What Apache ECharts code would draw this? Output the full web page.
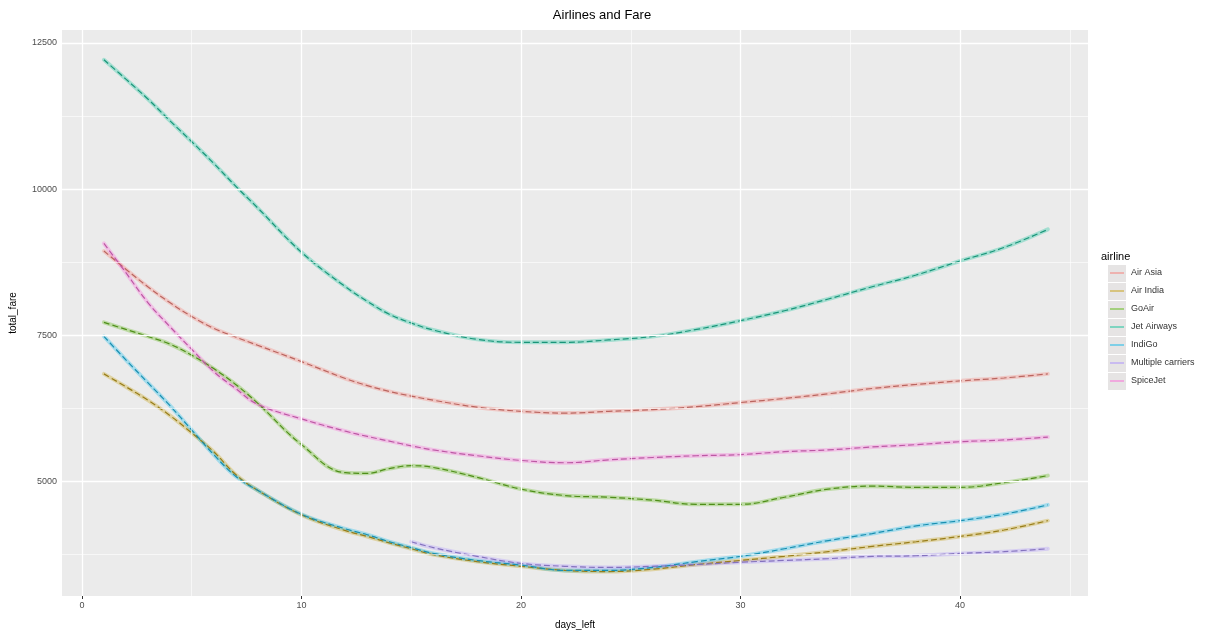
<!DOCTYPE html>
<html>
<head>
<meta charset="utf-8">
<title>Airlines and Fare</title>
<script src="https://cdn.jsdelivr.net/npm/echarts@6/dist/echarts.min.js"></script>
<style>
  html, body { margin: 0; padding: 0; background: #ffffff; }
  #chart { width: 1221px; height: 635px; }
</style>
</head>
<body>
<div id="chart"></div>
<script>
// Days before departure at which each smoothed fare curve is sampled
const days = [1, 2, 3, 4, 5, 6, 7, 8, 10, 12, 13, 14, 15, 16, 18, 20, 22, 24, 26, 28, 30, 32, 34, 36, 38, 40, 42, 44];

// Airlines in legend order, with their hue colours
const airlines = ['Air Asia', 'Air India', 'GoAir', 'Jet Airways', 'IndiGo', 'Multiple carriers', 'SpiceJet'];
const colors = ['#F8766D', '#C49A00', '#53B400', '#00C094', '#00B6EB', '#A58AFF', '#FB61D7'];

// Smoothed fare per airline, one value per entry of `days`
const fareAirAsia    = [8940, 8630, 8330, 8060, 7820, 7620, 7470, 7330, 7050, 6760, 6640, 6540, 6460, 6390, 6270, 6200, 6170, 6200, 6230, 6280, 6350, 6420, 6500, 6590, 6660, 6720, 6770, 6840];
const fareAirIndia   = [6840, 6620, 6390, 6130, 5830, 5510, 5120, 4850, 4430, 4160, 4060, 3950, 3850, 3750, 3630, 3550, 3480, 3460, 3500, 3580, 3650, 3720, 3800, 3890, 3970, 4060, 4170, 4330];
const fareGoAir      = [7720, 7600, 7480, 7350, 7160, 6930, 6660, 6340, 5630, 5150, 5140, 5220, 5270, 5240, 5070, 4870, 4760, 4730, 4680, 4610, 4610, 4730, 4870, 4920, 4900, 4900, 4980, 5100];
const fareJet        = [12210, 11880, 11540, 11170, 10810, 10440, 10050, 9680, 8920, 8330, 8080, 7860, 7710, 7590, 7430, 7380, 7380, 7420, 7480, 7600, 7750, 7920, 8120, 8330, 8530, 8770, 9000, 9310];
const fareIndiGo     = [7480, 7080, 6690, 6300, 5880, 5460, 5090, 4850, 4440, 4190, 4090, 3970, 3870, 3770, 3650, 3570, 3480, 3480, 3530, 3630, 3720, 3850, 3990, 4110, 4240, 4330, 4440, 4600];
const fareMultiple   = [null, null, null, null, null, null, null, null, null, null, null, null, 3970, 3870, 3720, 3600, 3550, 3530, 3550, 3580, 3620, 3650, 3680, 3720, 3730, 3770, 3800, 3850];
const fareSpiceJet   = [9070, 8570, 8060, 7650, 7260, 6880, 6590, 6320, 6070, 5860, 5770, 5690, 5610, 5540, 5440, 5360, 5320, 5370, 5410, 5440, 5460, 5510, 5540, 5590, 5630, 5680, 5710, 5760];
const fares = [fareAirAsia, fareAirIndia, fareGoAir, fareJet, fareIndiGo, fareMultiple, fareSpiceJet];

// Axis tick labels and minor grid positions
const xTicks = [0, 10, 20, 30, 40];
const xMinor = [5, 15, 25, 35, 45];
const yTicks = [5000, 7500, 10000, 12500];
const yMinor = [3750, 6250, 8750, 11250];

const chart = echarts.init(document.getElementById('chart'), null, { renderer: 'canvas' });

function rgb(hex) {
  const n = parseInt(hex.slice(1), 16);
  return [(n >> 16) & 255, (n >> 8) & 255, n & 255];
}
function rgba(hex, a) {
  const c = rgb(hex);
  return 'rgba(' + c[0] + ',' + c[1] + ',' + c[2] + ',' + a + ')';
}
// colour pulled toward dark grey, used for the dashes
function darken(hex, t) {
  const c = rgb(hex), g = [70, 70, 70];
  return 'rgb(' + c.map((v, i) => Math.round(v * (1 - t) + g[i] * t)).join(',') + ')';
}

// Grid lines drawn as mark lines so they can sit at fixed values
const gridLines = [];
xMinor.forEach(v => gridLines.push({ xAxis: v, lineStyle: { width: 0.6 } }));
yMinor.forEach(v => gridLines.push({ yAxis: v, lineStyle: { width: 0.6 } }));
xTicks.forEach(v => gridLines.push({ xAxis: v, lineStyle: { width: 1.3 } }));
yTicks.forEach(v => gridLines.push({ yAxis: v, lineStyle: { width: 1.3 } }));

const series = [{
  type: 'line',
  data: [],
  silent: true,
  markLine: {
    silent: true,
    symbol: 'none',
    label: { show: false },
    lineStyle: { color: '#ffffff', type: 'solid' },
    animation: false,
    data: gridLines
  }
}];

airlines.forEach((name, i) => {
  const pts = days.map((d, k) => [d, fares[i][k]]);
  // pale band under each curve
  series.push({
    name: name + ' band',
    type: 'line',
    data: pts,
    smooth: 0.4,
    showSymbol: false,
    silent: true,
    lineStyle: { color: rgba(colors[i], 0.3), width: 4, cap: 'round' },
    z: 2
  });
  // dashed smoothed curve
  series.push({
    name: name,
    type: 'line',
    data: pts,
    smooth: 0.4,
    showSymbol: false,
    silent: true,
    lineStyle: { color: darken(colors[i], 0.35), width: 1.2, type: [6, 3] },
    z: 3
  });
});

// Legend built as graphic elements (grey key box with a coloured line)
const legendLeft = 1101, legendTop = 251, rowH = 18;
const legendEls = [{
  type: 'text', left: legendLeft, top: legendTop,
  style: { text: 'airline', fill: '#000000', font: '11px "Liberation Sans", Arial, sans-serif' }
}];
airlines.forEach((name, i) => {
  const cy = legendTop + 22 + i * rowH;
  legendEls.push({
    type: 'rect', shape: { x: 1108, y: cy - 8, width: 18, height: 17 },
    style: { fill: '#E6E4E4' }, z: 10
  });
  legendEls.push({
    type: 'line', shape: { x1: 1110, y1: cy, x2: 1124, y2: cy },
    style: { stroke: rgba(colors[i], 0.75), lineWidth: 1.2 }, z: 11
  });
  legendEls.push({
    type: 'text', x: 1131, y: cy,
    style: { text: name, fill: '#333333', font: '9px "Liberation Sans", Arial, sans-serif', verticalAlign: 'middle' },
    z: 11
  });
});

const option = {
  animation: false,
  backgroundColor: '#ffffff',
  title: {
    text: 'Airlines and Fare',
    left: 597,
    textAlign: 'center',
    top: 4,
    textStyle: { fontSize: 13, fontWeight: 'normal', color: '#000000', fontFamily: '"Liberation Sans", Arial, sans-serif' }
  },
  grid: {
    left: 62, right: 133, top: 30, bottom: 32,
    show: true, backgroundColor: '#EBEBEB', borderWidth: 0
  },
  xAxis: {
    type: 'value',
    min: -0.91, max: 45.83,
    name: 'days_left',
    nameLocation: 'middle',
    nameGap: 24,
    nameTextStyle: { fontSize: 10, color: '#000000', fontFamily: '"Liberation Sans", Arial, sans-serif' },
    axisLine: { show: false },
    axisTick: { show: true, length: 3, lineStyle: { color: '#333333' }, customValues: xTicks },
    axisLabel: { customValues: xTicks, fontSize: 9, color: '#4D4D4D', margin: 5, fontFamily: '"Liberation Sans", Arial, sans-serif' },
    splitLine: { show: false }
  },
  yAxis: {
    type: 'value',
    min: 3042, max: 12720,
    name: 'total_fare',
    nameLocation: 'middle',
    nameGap: 44,
    nameTextStyle: { fontSize: 10, color: '#000000', fontFamily: '"Liberation Sans", Arial, sans-serif' },
    axisLine: { show: false },
    axisTick: { show: true, length: 3, lineStyle: { color: '#333333' }, customValues: yTicks },
    axisLabel: {
      customValues: yTicks, fontSize: 9, color: '#4D4D4D', margin: 5,
      fontFamily: '"Liberation Sans", Arial, sans-serif',
      formatter: v => String(v)
    },
    splitLine: { show: false }
  },
  graphic: legendEls,
  series: series
};

chart.setOption(option);
</script>
</body>
</html>
